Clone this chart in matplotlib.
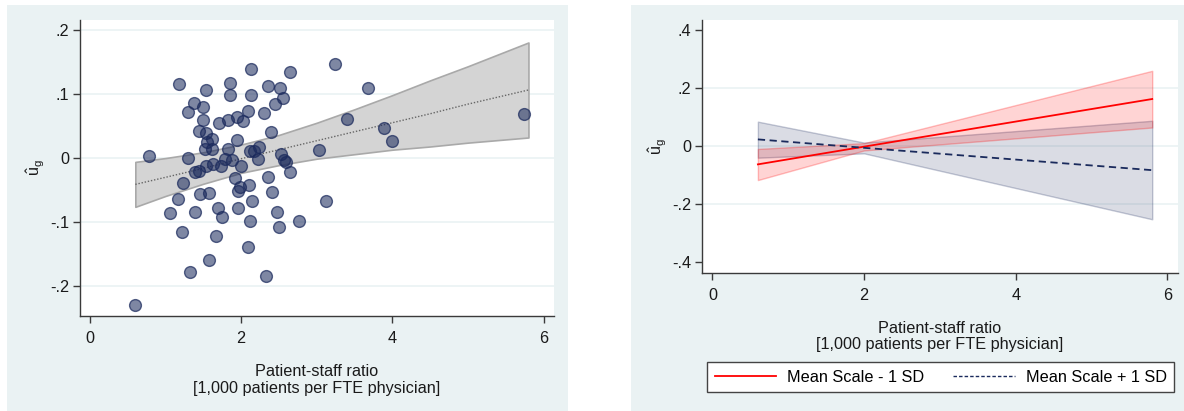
import matplotlib
matplotlib.use("Agg")
import matplotlib.pyplot as plt
from matplotlib.patches import Rectangle
from matplotlib.lines import Line2D

plt.rcParams['font.family'] = ['Liberation Sans', 'DejaVu Sans']

# ---- data: left panel (residuals vs patient-staff ratio) ----
ratio = [0.595, 0.780, 1.177, 1.296, 1.230, 1.164, 1.058, 1.217, 1.323, 1.296,
         1.376, 1.495, 1.534, 1.442, 1.495, 1.534, 1.614, 1.548, 1.521, 1.614,
         1.389, 1.442, 1.534, 1.627, 1.733, 1.786, 1.878, 1.997, 1.455, 1.574,
         1.389, 1.693, 1.746, 1.667, 1.574, 1.706, 1.825, 1.944, 2.024, 1.852,
         1.852, 2.130, 2.130, 2.090, 1.825, 1.944, 2.116, 2.169, 2.235, 2.222,
         1.918, 1.984, 1.958, 2.103, 2.143, 1.958, 2.116, 2.090, 2.354, 2.302,
         2.447, 2.394, 2.354, 2.407, 2.474, 2.500, 2.328, 2.513, 2.553, 2.646,
         2.526, 2.566, 2.593, 2.646, 2.765, 3.029, 3.122, 3.241, 3.399, 3.677,
         3.889, 3.995, 5.741]
resid = [-0.229, 0.003, 0.115, 0.000, -0.039, -0.064, -0.086, -0.115, -0.178, 0.072,
         0.086, 0.079, 0.106, 0.042, 0.059, 0.039, 0.030, 0.025, 0.014, 0.014,
         -0.022, -0.020, -0.012, -0.009, -0.012, -0.002, -0.003, -0.012, -0.056, -0.055,
         -0.084, -0.078, -0.092, -0.121, -0.159, 0.055, 0.059, 0.064, 0.058, 0.117,
         0.098, 0.139, 0.098, 0.073, 0.014, 0.028, 0.011, 0.011, 0.017, -0.002,
         -0.031, -0.045, -0.051, -0.042, -0.067, -0.078, -0.098, -0.139, 0.112, 0.070,
         0.084, 0.040, -0.030, -0.053, -0.084, -0.107, -0.184, 0.109, 0.093, 0.134,
         0.006, -0.003, -0.006, -0.022, -0.098, 0.012, -0.067, 0.146, 0.061, 0.109,
         0.047, 0.026, 0.069]

# linear fit and its 95% band
fit_x = [0.6, 1.0, 1.5, 2.0, 2.5, 3.0, 3.5, 4.0, 4.5, 5.0, 5.8]
fit_y = [-0.041, -0.030, -0.016, -0.001, 0.013, 0.027, 0.041, 0.055, 0.069, 0.084, 0.106]
fit_lo = [-0.076, -0.059, -0.040, -0.023, -0.011, -0.001, 0.006, 0.013, 0.018, 0.024, 0.032]
fit_hi = [-0.006, 0.000, 0.009, 0.021, 0.036, 0.055, 0.076, 0.098, 0.121, 0.143, 0.180]

# ---- data: right panel (predicted effect at scale mean -/+ 1 SD) ----
pred_x = [0.6, 2.0, 5.8]
low_y = [-0.063, -0.002, 0.162]
low_lo = [-0.117, -0.015, 0.064]
low_hi = [-0.010, 0.010, 0.259]
high_y = [0.023, -0.006, -0.083]
high_lo = [-0.040, -0.025, -0.252]
high_hi = [0.084, 0.012, 0.087]

left_yticks = [-0.2, -0.1, 0.0, 0.1, 0.2]
left_ylabels = ['-.2', '-.1', '0', '.1', '.2']
right_yticks = [-0.4, -0.2, 0.0, 0.2, 0.4]
right_ylabels = ['-.4', '-.2', '0', '.2', '.4']
xticks = [0, 2, 4, 6]
xlabel = 'Patient-staff ratio\n[1,000 patients per FTE physician]'
ylabel = r'$\mathregular{\hat{u}_g}$'
legend_labels = ['Mean Scale - 1 SD', 'Mean Scale + 1 SD']

W, H = 1184, 411
BG = '#EAF2F3'
NAVY = '#1a2a5c'
AX_COL = '#3a3a3a'
TXT = '#1a1a1a'
FS = 11.7

fig = plt.figure(figsize=(W / 100, H / 100), dpi=100)
fig.patch.set_facecolor('white')


def px_rect(x0, y0, x1, y1):
    return [x0 / W, 1 - y1 / H, (x1 - x0) / W, (y1 - y0) / H]


# panel backgrounds
for (x0, y0, x1, y1) in [(7, 5, 568, 411), (631, 5, 1184, 411)]:
    r = px_rect(x0, y0, x1, y1)
    fig.patches.append(Rectangle((r[0], r[1]), r[2], r[3], transform=fig.transFigure,
                                 facecolor=BG, edgecolor='none', zorder=-10))


def style_axes(ax, yticks, ylabels, xpad, ypad):
    ax.set_zorder(1)
    ax.set_facecolor('white')
    for s in ['top', 'right']:
        ax.spines[s].set_visible(False)
    for s in ['left', 'bottom']:
        ax.spines[s].set_color(AX_COL)
        ax.spines[s].set_linewidth(1.0)
    ax.set_xticks(xticks)
    ax.set_xticklabels([str(t) for t in xticks])
    ax.set_yticks(yticks)
    ax.set_yticklabels(ylabels)
    ax.tick_params(axis='both', direction='out', length=5, width=1, color=AX_COL,
                   labelsize=FS, labelcolor=TXT)
    ax.tick_params(axis='x', pad=5.5)
    ax.tick_params(axis='y', pad=3)
    ax.set_axisbelow(True)
    ax.set_xlabel(xlabel, fontsize=FS, color=TXT, labelpad=xpad, linespacing=1.1)
    ax.set_ylabel(ylabel, fontsize=FS, color=TXT, labelpad=ypad)


# ---- left panel ----
axL = fig.add_axes(px_rect(80, 20, 554, 316))
axL.set_xlim(-0.132, 6.138)
axL.set_ylim(-0.246, 0.215)
style_axes(axL, left_yticks, left_ylabels, xpad=13.5, ypad=2)
for t in left_yticks:
    axL.axhline(t, color=BG, lw=1.2, zorder=0)
axL.fill_between(fit_x, fit_lo, fit_hi, facecolor='#d4d4d4', edgecolor='#a9a9a9',
                 lw=1.2, zorder=1)
axL.plot(fit_x, fit_y, linestyle=(0, (1, 1.3)), color='#666666', lw=1.0, zorder=2)
axL.scatter(ratio, resid, s=72, facecolor=(0.10, 0.16, 0.36, 0.56),
            edgecolor=(0.10, 0.16, 0.36, 0.72), linewidth=1.0, zorder=3)

# ---- right panel ----
axR = fig.add_axes(px_rect(702, 20, 1178, 273))
axR.set_xlim(-0.137, 6.14)
axR.set_ylim(-0.437, 0.434)
style_axes(axR, right_yticks, right_ylabels, xpad=13, ypad=2)
for t in [-0.2, 0.0, 0.2]:
    axR.axhline(t, color=BG, lw=1.2, zorder=0)
axR.fill_between(pred_x, high_lo, high_hi, facecolor=(0.10, 0.16, 0.36, 0.16),
                 edgecolor=(0.10, 0.16, 0.36, 0.25), lw=1.0, zorder=1)
axR.fill_between(pred_x, low_lo, low_hi, facecolor=(1.0, 0.0, 0.0, 0.17),
                 edgecolor=(1.0, 0.0, 0.0, 0.25), lw=1.0, zorder=2)
axR.plot(pred_x, low_y, color='red', lw=1.3, zorder=3)
axR.plot(pred_x, high_y, color=NAVY, lw=1.3, linestyle=(0, (4, 2.5)), zorder=3)

handles = [Line2D([0], [0], color='red', lw=1.3),
           Line2D([0], [0], color=NAVY, lw=1.0, linestyle=(0, (2.5, 1.5)))]
leg = fig.legend(handles, legend_labels, ncol=2, loc='center',
                 bbox_to_anchor=((708 + 1173) / 2 / W, 1 - 377 / H),
                 frameon=True, fancybox=False, fontsize=FS, handlelength=3.8,
                 columnspacing=1.8, borderpad=0.45, handletextpad=0.65,
                 framealpha=1.0, facecolor='white')
leg.get_frame().set_edgecolor('#444444')
leg.get_frame().set_linewidth(1.0)

fig.savefig('out.png', dpi=100, facecolor='white')
